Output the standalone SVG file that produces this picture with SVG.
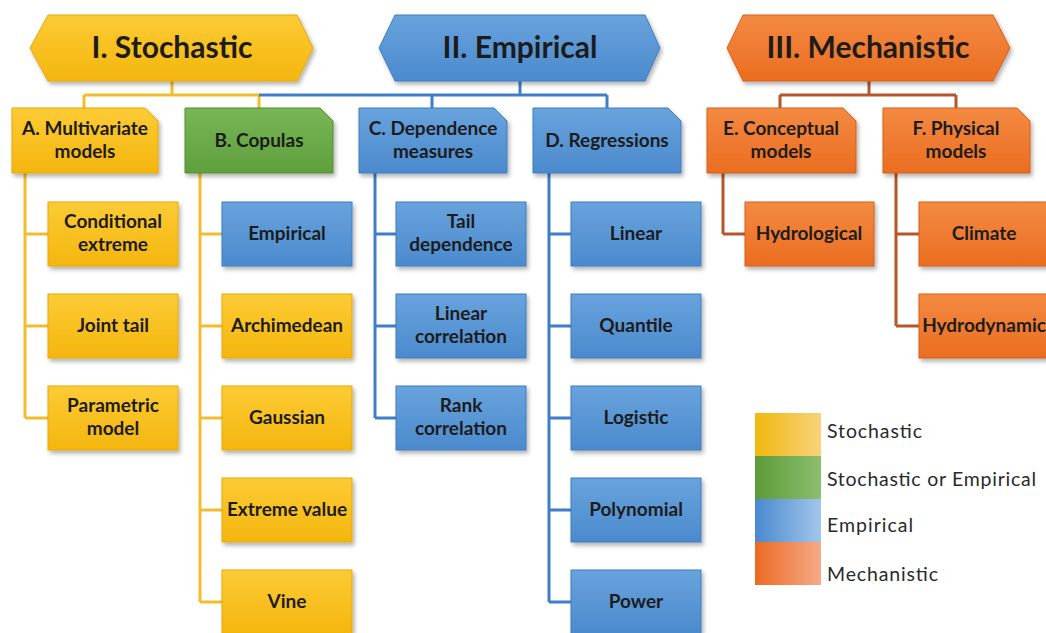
<svg xmlns="http://www.w3.org/2000/svg" width="1046" height="633" viewBox="0 0 1046 633">
<defs>
<linearGradient id="gY" x1="0" y1="0" x2="0" y2="1"><stop offset="0" stop-color="#fccb35"/><stop offset="1" stop-color="#f4b60e"/></linearGradient>
<linearGradient id="gB" x1="0" y1="0" x2="0" y2="1"><stop offset="0" stop-color="#68a3dd"/><stop offset="1" stop-color="#4b8acd"/></linearGradient>
<linearGradient id="gG" x1="0" y1="0" x2="0" y2="1"><stop offset="0" stop-color="#78b656"/><stop offset="1" stop-color="#5f9f3c"/></linearGradient>
<linearGradient id="gO" x1="0" y1="0" x2="0" y2="1"><stop offset="0" stop-color="#f48a42"/><stop offset="1" stop-color="#ea6d20"/></linearGradient>
<linearGradient id="lY" x1="0" y1="0" x2="1" y2="0"><stop offset="0" stop-color="#f1b810"/><stop offset="1" stop-color="#f7d27a"/></linearGradient>
<linearGradient id="lG" x1="0" y1="0" x2="1" y2="0"><stop offset="0" stop-color="#5c9b38"/><stop offset="1" stop-color="#8dbd6e"/></linearGradient>
<linearGradient id="lB" x1="0" y1="0" x2="1" y2="0"><stop offset="0" stop-color="#4a89cf"/><stop offset="1" stop-color="#a2c6ec"/></linearGradient>
<linearGradient id="lO" x1="0" y1="0" x2="1" y2="0"><stop offset="0" stop-color="#ec6a22"/><stop offset="1" stop-color="#f5aa88"/></linearGradient>
<filter id="sh" x="-10%" y="-10%" width="125%" height="130%"><feDropShadow dx="2" dy="3" stdDeviation="2" flood-color="#000" flood-opacity="0.3"/></filter>
</defs>
<style>
.y{fill:url(#gY);stroke:#e5a90a;stroke-width:1;filter:url(#sh)}
.b{fill:url(#gB);stroke:#3f7cbf;stroke-width:1;filter:url(#sh)}
.g{fill:url(#gG);stroke:#548f33;stroke-width:1;filter:url(#sh)}
.o{fill:url(#gO);stroke:#d75f18;stroke-width:1;filter:url(#sh)}
text{font-family:Lato,"Open Sans","Liberation Sans",sans-serif;font-weight:bold;fill:#1c1c1c;text-anchor:middle}
.h{font-size:30px}
.t{font-size:19px}
.lg{font-size:19.5px;font-weight:normal;text-anchor:start;fill:#2a2a2a}
.cy{stroke:#f1bd2e;stroke-width:3;fill:none}
.cb{stroke:#3f7ec6;stroke-width:3;fill:none}
.co{stroke:#b5572a;stroke-width:3;fill:none}
</style>
<rect width="1046" height="633" fill="#fff"/>
<g id="connectors">
<path class="cy" d="M172,81V95M84,95H259M84,95V108M259,95V108"/>
<path class="cb" d="M520,81V95M259,95H607M432,95V108M607,95V108"/>
<path class="co" d="M869,81V95M780,95H956M780,95V108M956,95V108"/>
<path class="cy" d="M25,173V418M25,234H48M25,326H48M25,418H48"/>
<path class="cy" d="M200,173V602M200,234H222M200,326H222M200,418H222M200,510H222M200,602H222"/>
<path class="cb" d="M375,173V418M375,234H396M375,326H396M375,418H396"/>
<path class="cb" d="M549,173V602M549,234H571M549,326H571M549,418H571M549,510H571M549,602H571"/>
<path class="co" d="M723,173V234M723,234H745"/>
<path class="co" d="M896,173V326M896,234H919M896,326H919"/>
</g>
<g id="h1"><polygon class="y" points="30,48 48,15 297,15 313,48 297,81 48,81"/><text class="h" x="172" y="58">I. Stochastic</text></g>
<g id="h2"><polygon class="b" points="379,48 395,15 645,15 660,48 645,81 395,81"/><text class="h" x="520" y="58">II. Empirical</text></g>
<g id="h3"><polygon class="o" points="727,48 743,15 993,15 1010,48 993,81 743,81"/><text class="h" x="868" y="58">III. Mechanistic</text></g>
<g id="catA"><path class="y" d="M12,108H145L158,121V173H12Z"/><text class="t" x="85" y="135">A. Multivariate</text><text class="t" x="85" y="158">models</text></g>
<g id="catB"><path class="g" d="M185,108H320L333,121V173H185Z"/><text class="t" x="259" y="147">B. Copulas</text></g>
<g id="catC"><path class="b" d="M359,108H494L507,121V173H359Z"/><text class="t" x="433" y="135">C. Dependence</text><text class="t" x="433" y="158">measures</text></g>
<g id="catD"><path class="b" d="M533,108H668L681,121V173H533Z"/><text class="t" x="607" y="147">D. Regressions</text></g>
<g id="catE"><path class="o" d="M707,108H843L856,121V173H707Z"/><text class="t" x="781" y="135">E. Conceptual</text><text class="t" x="781" y="158">models</text></g>
<g id="catF"><path class="o" d="M883,108H1017L1030,121V173H883Z"/><text class="t" x="956" y="135">F. Physical</text><text class="t" x="956" y="158">models</text></g>
<g id="a1"><rect class="y" x="48" y="202" width="130" height="64"/><text class="t" x="113" y="228">Conditional</text><text class="t" x="113" y="251">extreme</text></g>
<g id="a2"><rect class="y" x="48" y="294" width="130" height="64"/><text class="t" x="113" y="332">Joint tail</text></g>
<g id="a3"><rect class="y" x="48" y="386" width="130" height="64"/><text class="t" x="113" y="412">Parametric</text><text class="t" x="113" y="435">model</text></g>
<g id="b1"><rect class="b" x="222" y="202" width="130" height="64"/><text class="t" x="287" y="240">Empirical</text></g>
<g id="b2"><rect class="y" x="222" y="294" width="130" height="64"/><text class="t" x="287" y="332">Archimedean</text></g>
<g id="b3"><rect class="y" x="222" y="386" width="130" height="64"/><text class="t" x="287" y="424">Gaussian</text></g>
<g id="b4"><rect class="y" x="222" y="478" width="130" height="64"/><text class="t" x="287" y="516">Extreme value</text></g>
<g id="b5"><rect class="y" x="222" y="570" width="130" height="64"/><text class="t" x="287" y="608">Vine</text></g>
<g id="c1"><rect class="b" x="396" y="202" width="130" height="64"/><text class="t" x="461" y="228">Tail</text><text class="t" x="461" y="251">dependence</text></g>
<g id="c2"><rect class="b" x="396" y="294" width="130" height="64"/><text class="t" x="461" y="320">Linear</text><text class="t" x="461" y="343">correlation</text></g>
<g id="c3"><rect class="b" x="396" y="386" width="130" height="64"/><text class="t" x="461" y="412">Rank</text><text class="t" x="461" y="435">correlation</text></g>
<g id="d1"><rect class="b" x="571" y="202" width="130" height="64"/><text class="t" x="636" y="240">Linear</text></g>
<g id="d2"><rect class="b" x="571" y="294" width="130" height="64"/><text class="t" x="636" y="332">Quantile</text></g>
<g id="d3"><rect class="b" x="571" y="386" width="130" height="64"/><text class="t" x="636" y="424">Logistic</text></g>
<g id="d4"><rect class="b" x="571" y="478" width="130" height="64"/><text class="t" x="636" y="516">Polynomial</text></g>
<g id="d5"><rect class="b" x="571" y="570" width="130" height="64"/><text class="t" x="636" y="608">Power</text></g>
<g id="e1"><rect class="o" x="745" y="202" width="129" height="64"/><text class="t" x="809" y="240">Hydrological</text></g>
<g id="f1"><rect class="o" x="919" y="202" width="131" height="64"/><text class="t" x="984" y="240">Climate</text></g>
<g id="f2"><rect class="o" x="919" y="294" width="131" height="64"/><text class="t" x="984" y="332">Hydrodynamic</text></g>
<g id="legend">
<rect x="755" y="413" width="66" height="43" fill="url(#lY)"/>
<rect x="755" y="456" width="66" height="43" fill="url(#lG)"/>
<rect x="755" y="499" width="66" height="43" fill="url(#lB)"/>
<rect x="755" y="542" width="66" height="43" fill="url(#lO)"/>
<text class="lg" x="827" y="438" textLength="95">Stochastic</text>
<text class="lg" x="827" y="486" textLength="209">Stochastic or Empirical</text>
<text class="lg" x="827" y="532" textLength="86">Empirical</text>
<text class="lg" x="827" y="581" textLength="111">Mechanistic</text>
</g>
</svg>
